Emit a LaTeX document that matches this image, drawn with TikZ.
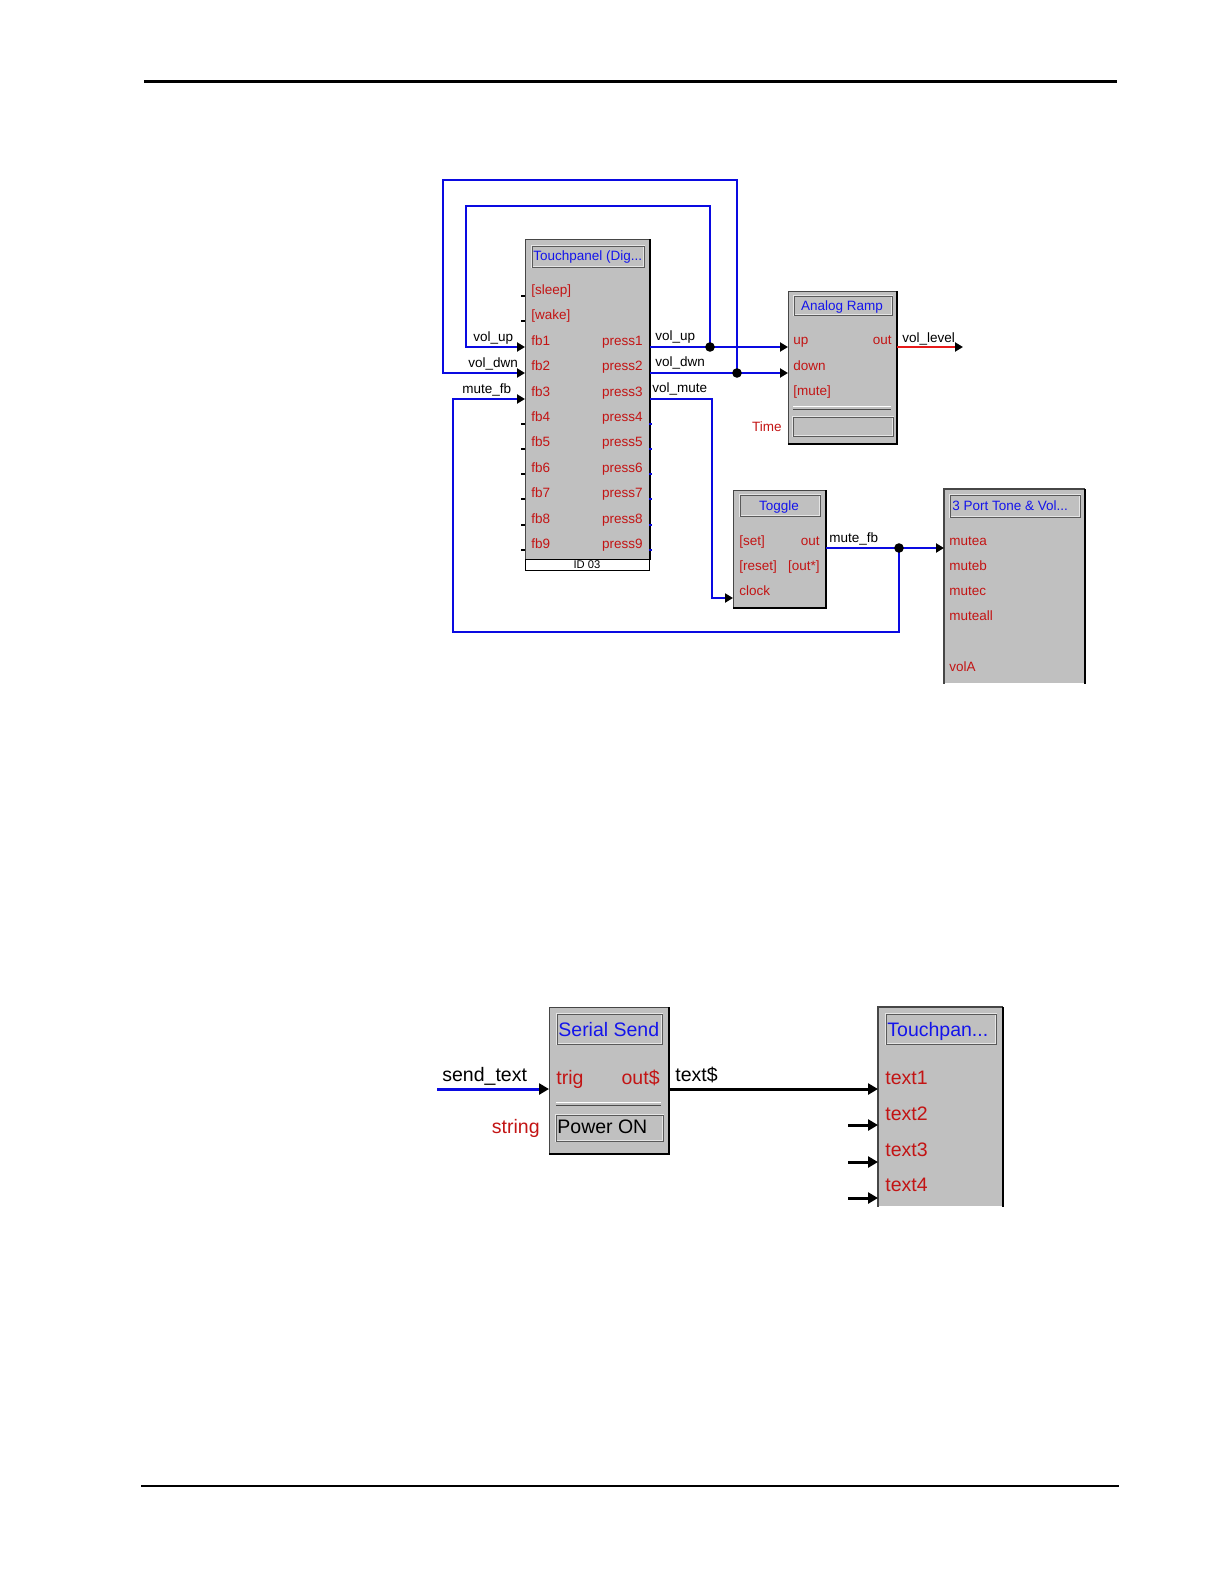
\documentclass[tikz,border=0pt]{standalone}
\usepackage{fontspec}
\setmainfont{Liberation Sans}
\usetikzlibrary{arrows.meta}
\definecolor{wblue}{RGB}{10,10,225}
\definecolor{wred}{RGB}{195,20,20}
\definecolor{tblue}{RGB}{20,20,235}
\definecolor{bgray}{RGB}{192,192,192}
\definecolor{lred}{RGB}{230,25,25}
\definecolor{edgegray}{RGB}{70,70,70}
\begin{document}
\begin{tikzpicture}[x=0.5pt,y=-0.5pt,
  lbl/.style={inner sep=0pt, font=\fontsize{6.75}{8}\selectfont, text height=4.8pt, text depth=1.4pt, yshift=-1pt},
  prt/.style={lbl, text=wred},
  ttl/.style={lbl, text=tblue},
  blk/.style={lbl, text=black, yshift=0.8pt},
  bigl/.style={inner sep=0pt, font=\fontsize{9.75}{12}\selectfont, text height=7.2pt, text depth=2.1pt, yshift=-1.3pt},
  bprt/.style={bigl, text=wred},
  bttl/.style={bigl, text=tblue},
  bblk/.style={bigl, text=black},
  box/.style={rectangle, fill=bgray, draw=edgegray, line width=0.5pt, inner sep=0pt, anchor=north west},
  obox/.style={rectangle, fill=bgray, draw=none, inner sep=0pt, anchor=north west},
  shade/.style={black, line width=1pt},
  inset/.style={rectangle, fill=bgray, draw=white!90!black, line width=1.2pt, inner sep=0pt, anchor=north west},
  insetin/.style={draw=gray!70!black, line width=0.3pt},
  wire/.style={wblue, line width=1.2pt},
  bwire/.style={line width=1.5pt},
  arr/.style={-{Triangle[length=4pt,width=4.5pt,color=black]}},
  barr/.style={-{Triangle[length=5pt,width=5.5pt,color=black]}},
  dot/.style={circle, fill=black, inner sep=0pt, minimum size=4.8pt},
]
\useasboundingbox[fill=white] (0,0) rectangle (1224,1584);
% page rules
\coordinate (hl1) at (144,82); \coordinate (hl2) at (1117,82);
\draw[line width=1.5pt] (hl1) -- (hl2);
\coordinate (fl1) at (141,1486); \coordinate (fl2) at (1119,1486);
\draw[line width=1pt] (fl1) -- (fl2);

%% ===== Touchpanel (Dig...)
\node[box, minimum width=62pt, minimum height=160pt] (tp) at (525,239) {};
\draw[shade] (tp.north east) -- (tp.south east);
\node[rectangle, fill=white, draw=black, line width=0.5pt, inner sep=0pt, anchor=north west,
      minimum width=62pt, minimum height=5.5pt] (tpid) at (525,559) {};
\node[lbl, font=\fontsize{5.6}{6.5}\selectfont, text height=3.9pt, text depth=1pt, yshift=0.5pt] (tpidt) at (587,565) {ID 03};
\node[inset, minimum width=56pt, minimum height=10.5pt] (tpt) at (531,245) {};
\draw[insetin] ([shift={(1.5,1.5)}]tpt.north west) rectangle ([shift={(-1.5,-1.5)}]tpt.south east);
\node[ttl, anchor=west] (tptt) at (533,255) {Touchpanel (Dig...};
\node[prt, anchor=west] (tps) at (531,289) {[sleep]};
\node[prt, anchor=west] (tpw) at (531,314.4) {[wake]};
\foreach \i in {1,...,9} {
  \node[prt, anchor=west] (tpf\i) at (531,{289+25.4*(\i+1)}) {fb\i};
  \node[prt, anchor=east] (tpp\i) at (643,{289+25.4*(\i+1)}) {press\i};
}
\foreach \yy in {296,321,424,449,474,499,525,550} {
  \draw[black, line width=0.9pt] (521,\yy) -- (525,\yy);
}
\foreach \yy in {424,449,474,499,525,550} {
  \draw[wblue, line width=0.8pt] (649,\yy) -- (652,\yy);
}
\coordinate (tp-fb1) at (525,347);
\coordinate (tp-fb2) at (525,373);
\coordinate (tp-fb3) at (525,399);
\coordinate (tp-p1) at (650,347);
\coordinate (tp-p2) at (650,373);
\coordinate (tp-p3) at (650,399);
\node[blk, anchor=west] (l-vu) at (473,338) {vol\_up};
\node[blk, anchor=west] (l-vd) at (468,364) {vol\_dwn};
\node[blk, anchor=west] (l-mf) at (462,390) {mute\_fb};
\node[blk, anchor=west] (r-vu) at (655,337) {vol\_up};
\node[blk, anchor=west] (r-vd) at (655,363) {vol\_dwn};
\node[blk, anchor=west] (r-vm) at (652,389) {vol\_mute};

%% ===== Analog Ramp
\node[box, minimum width=54pt, minimum height=76pt] (am) at (788,291) {};
\draw[shade] (am.north east) -- (am.south east) -- (am.south west);
\node[inset, minimum width=49pt, minimum height=9.5pt] (amt) at (793,295) {};
\draw[insetin] ([shift={(1.5,1.5)}]amt.north west) rectangle ([shift={(-1.5,-1.5)}]amt.south east);
\node[ttl] (amtt) at (842,305) {Analog Ramp};
\node[prt, anchor=west] (am-l1) at (793,339) {up};
\node[prt, anchor=west] (am-l2) at (793,365) {down};
\node[prt, anchor=west] (am-l3) at (793,390) {[mute]};
\node[prt, anchor=east] (am-lo) at (892,339) {out};
\coordinate (amsep1) at (793,409); \coordinate (amsep2) at (891,409);
\draw[gray!60!black, line width=0.4pt] (amsep1) -- (amsep2);
\draw[white, line width=0.4pt] ([yshift=1.2]amsep1) -- ([yshift=1.2]amsep2);
\node[inset, minimum width=50pt, minimum height=9.5pt] (amf) at (792,416) {};
\draw[insetin] ([shift={(1.5,1.5)}]amf.north west) rectangle ([shift={(-1.5,-1.5)}]amf.south east);
\node[prt, anchor=east] (am-time) at (782,426) {Time};
\coordinate (am-up) at (788,347);
\coordinate (am-down) at (788,373);
\coordinate (am-out) at (897,347);
\coordinate (vl-end) at (963,347);
\node[blk, anchor=west] (l-vl) at (902,339) {vol\_level};

%% ===== Toggle
\node[box, minimum width=46pt, minimum height=58.5pt] (tg) at (733,490) {};
\draw[shade] (tg.north east) -- (tg.south east) -- (tg.south west);
\node[inset, minimum width=40pt, minimum height=10.5pt] (tgt) at (739,494) {};
\draw[insetin] ([shift={(1.5,1.5)}]tgt.north west) rectangle ([shift={(-1.5,-1.5)}]tgt.south east);
\node[ttl] (tgtt) at (779,505) {Toggle};
\node[prt, anchor=west] (tg-l1) at (739,540) {[set]};
\node[prt, anchor=west] (tg-l2) at (739,565.5) {[reset]};
\node[prt, anchor=west] (tg-l3) at (739,590) {clock};
\node[prt, anchor=east] (tg-l4) at (820,540) {out};
\node[prt, anchor=east] (tg-l5) at (820,565.5) {[out*]};
\coordinate (tg-clock) at (733,598);
\coordinate (tg-out) at (826,548);
\node[blk, anchor=west] (l-mf2) at (829,539) {mute\_fb};

%% ===== 3 Port Tone & Vol...
\node[obox, minimum width=70pt, minimum height=97pt] (pt) at (944,489) {};
\draw[edgegray, line width=0.6pt] (pt.south west) -- (pt.north west) -- (pt.north east);
\draw[shade] (pt.north east) -- (pt.south east);
\node[inset, minimum width=65pt, minimum height=11pt] (ptt) at (949,494) {};
\draw[insetin] ([shift={(1.5,1.5)}]ptt.north west) rectangle ([shift={(-1.5,-1.5)}]ptt.south east);
\node[ttl, anchor=west] (pttt) at (952,505) {3 Port Tone \& Vol...};
\node[prt, anchor=west] (pt-l1) at (949,540) {mutea};
\node[prt, anchor=west] (pt-l2) at (949,565.5) {muteb};
\node[prt, anchor=west] (pt-l3) at (949,590) {mutec};
\node[prt, anchor=west] (pt-l4) at (949,615.5) {muteall};
\node[prt, anchor=west] (pt-l5) at (949,666) {volA};
\coordinate (pt-mutea) at (944,548);

%% ===== junctions
\coordinate (jA) at (710,347);
\coordinate (jB) at (737,373);
\coordinate (jC) at (899,548);

%% ===== wires (top)
\draw[wire] (tp-p1) -- (jA);
\draw[wire,arr] (jA) -- (am-up);
\draw[wire,arr] (jA) -- (710,206) -- (466,206) -- (466,347) -- (tp-fb1);
\draw[wire] (tp-p2) -- (jB);
\draw[wire,arr] (jB) -- (am-down);
\draw[wire,arr] (jB) -- (737,180) -- (443,180) -- (443,373) -- (tp-fb2);
\draw[wire,arr] (tp-p3) -- (712,399) -- (712,598) -- (tg-clock);
\draw[wire] (tg-out) -- (jC);
\draw[wire,arr] (jC) -- (pt-mutea);
\draw[wire,arr] (jC) -- (899,632) -- (453,632) -- (453,399) -- (tp-fb3);
\draw[lred, line width=1.2pt, arr] (am-out) -- (vl-end);
\node[dot] (dA) at (jA) {};
\node[dot] (dB) at (jB) {};
\node[dot] (dC) at (jC) {};

%% ===== Serial Send
\node[box, minimum width=59.5pt, minimum height=73pt] (ss) at (549,1007) {};
\draw[shade] (ss.north east) -- (ss.south east) -- (ss.south west);
\node[inset, minimum width=52.5pt, minimum height=15pt] (sst) at (556,1013) {};
\draw[insetin] ([shift={(1.5,1.5)}]sst.north west) rectangle ([shift={(-1.5,-1.5)}]sst.south east);
\node[bttl, anchor=west] (sstt) at (558,1029) {Serial Send};
\node[bprt, anchor=west] (ss-l1) at (556,1077) {trig};
\node[bprt, anchor=east] (ss-l2) at (660,1077) {out\$};
\coordinate (sssep1) at (556,1105); \coordinate (sssep2) at (661,1105);
\draw[gray!60!black, line width=0.5pt] (sssep1) -- (sssep2);
\draw[white, line width=0.5pt] ([yshift=1.5]sssep1) -- ([yshift=1.5]sssep2);
\node[inset, minimum width=53.5pt, minimum height=13pt] (ssf) at (555,1114) {};
\draw[insetin] ([shift={(1.5,1.5)}]ssf.north west) rectangle ([shift={(-1.5,-1.5)}]ssf.south east);
\node[bblk, anchor=west] (ss-pw) at (557,1126) {Power ON};
\node[bprt, anchor=east] (ss-str) at (540,1126) {string};
\coordinate (ss-trig) at (549,1089);
\coordinate (ss-out) at (669,1089);
\coordinate (st-start) at (437,1089);
\node[bblk, anchor=west] (l-st) at (442,1074) {send\_text};
\node[bblk, anchor=west] (l-tx) at (675,1074) {text\$};

%% ===== Touchpan...
\node[obox, minimum width=62pt, minimum height=99.5pt] (tq) at (878,1007) {};
\draw[edgegray, line width=0.6pt] (tq.south west) -- (tq.north west) -- (tq.north east);
\draw[shade] (tq.north east) -- (tq.south east);
\node[inset, minimum width=55pt, minimum height=15pt] (tqt) at (885,1013) {};
\draw[insetin] ([shift={(1.5,1.5)}]tqt.north west) rectangle ([shift={(-1.5,-1.5)}]tqt.south east);
\node[bttl, anchor=west] (tqtt) at (887,1029) {Touchpan...};
\node[bprt, anchor=west] (tq-l1) at (885,1077) {text1};
\node[bprt, anchor=west] (tq-l2) at (885,1113) {text2};
\node[bprt, anchor=west] (tq-l3) at (885,1149) {text3};
\node[bprt, anchor=west] (tq-l4) at (885,1184) {text4};
\coordinate (tq-t1) at (878,1089);
\coordinate (tq-t2) at (878,1125);
\coordinate (tq-t3) at (878,1162);
\coordinate (tq-t4) at (878,1198);
\coordinate (sb2) at (848,1125);
\coordinate (sb3) at (848,1162);
\coordinate (sb4) at (848,1198);

%% ===== wires (bottom)
\draw[wblue, bwire, barr] (st-start) -- (ss-trig);
\draw[black, bwire, barr] (ss-out) -- (tq-t1);
\draw[black, bwire, barr] (sb2) -- (tq-t2);
\draw[black, bwire, barr] (sb3) -- (tq-t3);
\draw[black, bwire, barr] (sb4) -- (tq-t4);
\end{tikzpicture}
\end{document}
